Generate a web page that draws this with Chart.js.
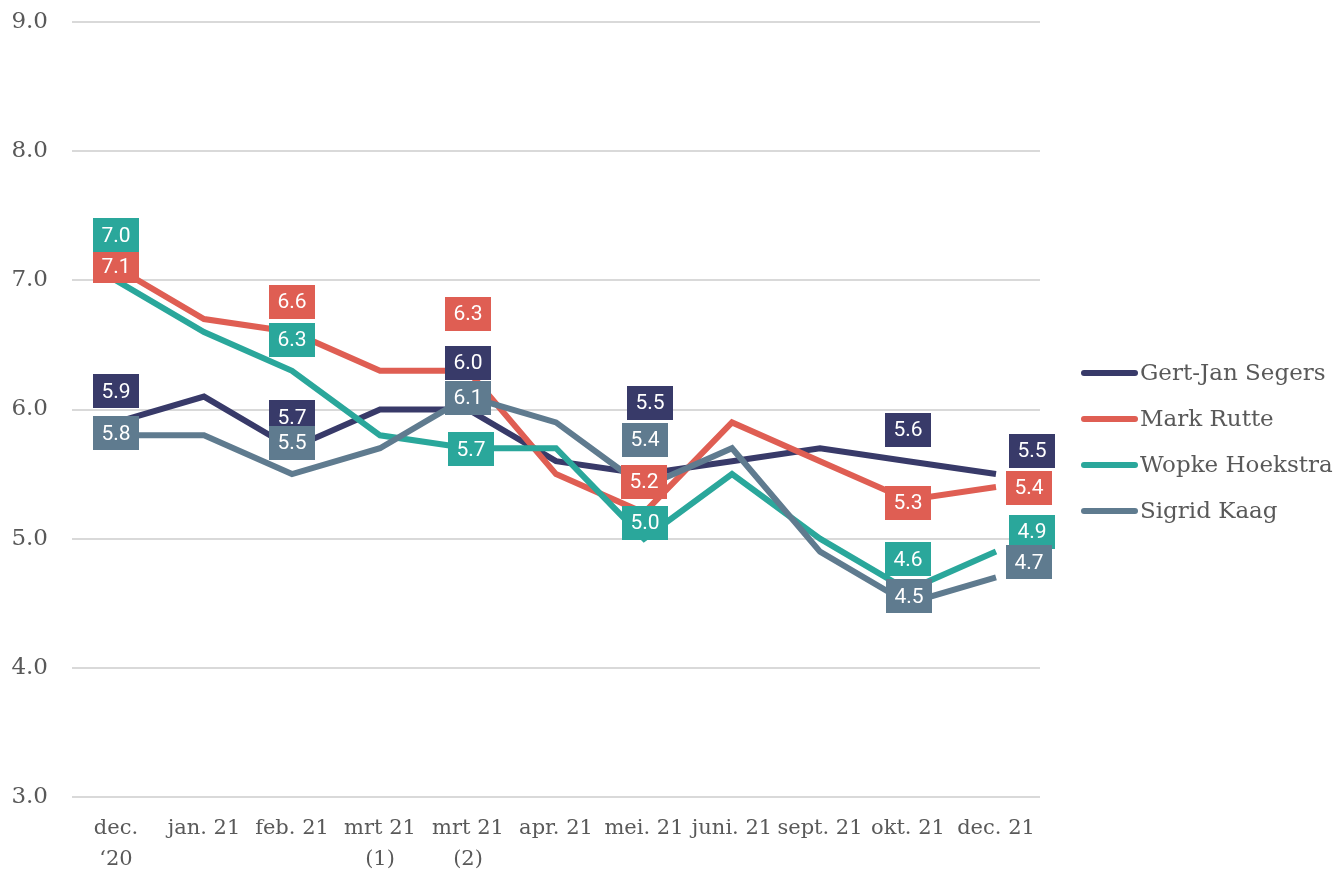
<!DOCTYPE html>
<html><head><meta charset="utf-8">
<script src="https://cdn.jsdelivr.net/npm/chart.js@4/dist/chart.umd.min.js"></script>
<style>html,body{margin:0;padding:0;background:#fff}#wrap{width:1338px;height:871px;position:relative}</style>
</head><body><div id="wrap"><canvas id="c"></canvas></div>
<script>
const categories = [["dec.","\u201820"],"jan. 21","feb. 21",["mrt 21","(1)"],["mrt 21","(2)"],"apr. 21","mei. 21","juni. 21","sept. 21","okt. 21","dec. 21"];
const seriesNames = ["Gert-Jan Segers","Mark Rutte","Wopke Hoekstra","Sigrid Kaag"];
const segers   = [5.9,6.1,5.7,6.0,6.0,5.6,5.5,5.6,5.7,5.6,5.5];
const rutte    = [7.1,6.7,6.6,6.3,6.3,5.5,5.2,5.9,5.6,5.3,5.4];
const hoekstra = [7.0,6.6,6.3,5.8,5.7,5.7,5.0,5.5,5.0,4.6,4.9];
const kaag     = [5.8,5.8,5.5,5.7,6.1,5.9,5.4,5.7,4.9,4.5,4.7];
const yMin = 3, yMax = 9, yStep = 1;
const labelledIdx = [0,2,4,6,9,10];

// styling
const colors = ["#383a69","#df5e53","#2aa79b","#5f7b8f"];
// label box offsets (px) relative to point, per series, per labelled index
const labelOffsets = [
  [[0,-31],[0,-31],[0,-47],[6,-71],[0,-31],[36,-23]],
  [[0,-1],[0,-30],[0,-57],[0,-31],[0,3],[33,1]],
  [[0,-45],[0,-31],[3,1],[1,-16],[0,-31],[36,-20]],
  [[0,-2],[0,-31],[0,1],[1,-47],[1,-7],[33,-15]]
];
const serifFont = "'DejaVu Serif', 'Liberation Serif', serif";
const textColor = "#595959";

const allValues = [segers, rutte, hoekstra, kaag];

const labelPlugin = {
  id: 'boxLabels',
  afterDatasetsDraw(chart) {
    const ctx = chart.ctx;
    ctx.save();
    ctx.font = "21px Roboto, 'Noto Sans', sans-serif";
    ctx.textAlign = 'center';
    ctx.textBaseline = 'middle';
    chart.data.datasets.forEach((ds, i) => {
      const meta = chart.getDatasetMeta(i);
      labelledIdx.forEach((idx, k) => {
        const el = meta.data[idx];
        const off = labelOffsets[i][k];
        const cx = el.x + off[0], cy = el.y + off[1];
        const w = 46, h = 34;
        ctx.fillStyle = colors[i];
        ctx.fillRect(Math.round(cx - w/2), Math.round(cy - h/2), w, h);
        ctx.fillStyle = '#ffffff';
        ctx.fillText(ds.data[idx].toFixed(1), cx, cy + 1);
      });
    });
    ctx.restore();
  }
};

const legendPlugin = {
  id: 'sideLegend',
  afterDraw(chart) {
    const ctx = chart.ctx;
    ctx.save();
    const x0 = 1084, x1 = 1135, tx = 1140, rowY0 = 373, rowStep = 46;
    seriesNames.forEach((name, i) => {
      const y = rowY0 + i * rowStep;
      ctx.strokeStyle = colors[i];
      ctx.lineWidth = 6;
      ctx.lineCap = 'round';
      ctx.beginPath(); ctx.moveTo(x0, y); ctx.lineTo(x1, y); ctx.stroke();
      ctx.fillStyle = textColor;
      ctx.font = "23px " + serifFont;
      ctx.textAlign = 'left';
      ctx.textBaseline = 'middle';
      ctx.fillText(name, tx, y + 1);
    });
    ctx.restore();
  }
};

new Chart(document.getElementById('c'), {
  type: 'line',
  data: {
    labels: categories,
    datasets: seriesNames.map((n, i) => ({
      label: n,
      data: allValues[i],
      borderColor: colors[i],
      backgroundColor: colors[i],
      borderWidth: 6,
      pointRadius: 0,
      tension: 0,
      fill: false,
      order: 4 - i
    }))
  },
  options: {
    responsive: true,
    maintainAspectRatio: false,
    animation: false,
    layout: { padding: { top: 22, right: 298, bottom: 0, left: 0 } },
    plugins: { legend: { display: false }, tooltip: { enabled: false } },
    scales: {
      x: {
        offset: true,
        grid: { display: false, drawTicks: false },
        border: { display: false },
        ticks: { color: textColor, font: { family: serifFont, size: 21, lineHeight: 1.48 }, padding: 16, maxRotation: 0, autoSkip: false },
        afterFit(s) { s.height = 74; s.paddingLeft = 0; s.paddingRight = 0; }
      },
      y: {
        min: yMin, max: yMax,
        grid: { color: '#d9d9d9', lineWidth: 2, drawTicks: false },
        border: { display: false },
        ticks: { stepSize: yStep, color: textColor, font: { family: serifFont, size: 23 }, padding: 24, callback: v => Number(v).toFixed(1) },
        afterFit(s) { s.width = 72; s.paddingTop = 0; s.paddingBottom = 0; }
      }
    }
  },
  plugins: [labelPlugin, legendPlugin]
});
</script></body></html>
